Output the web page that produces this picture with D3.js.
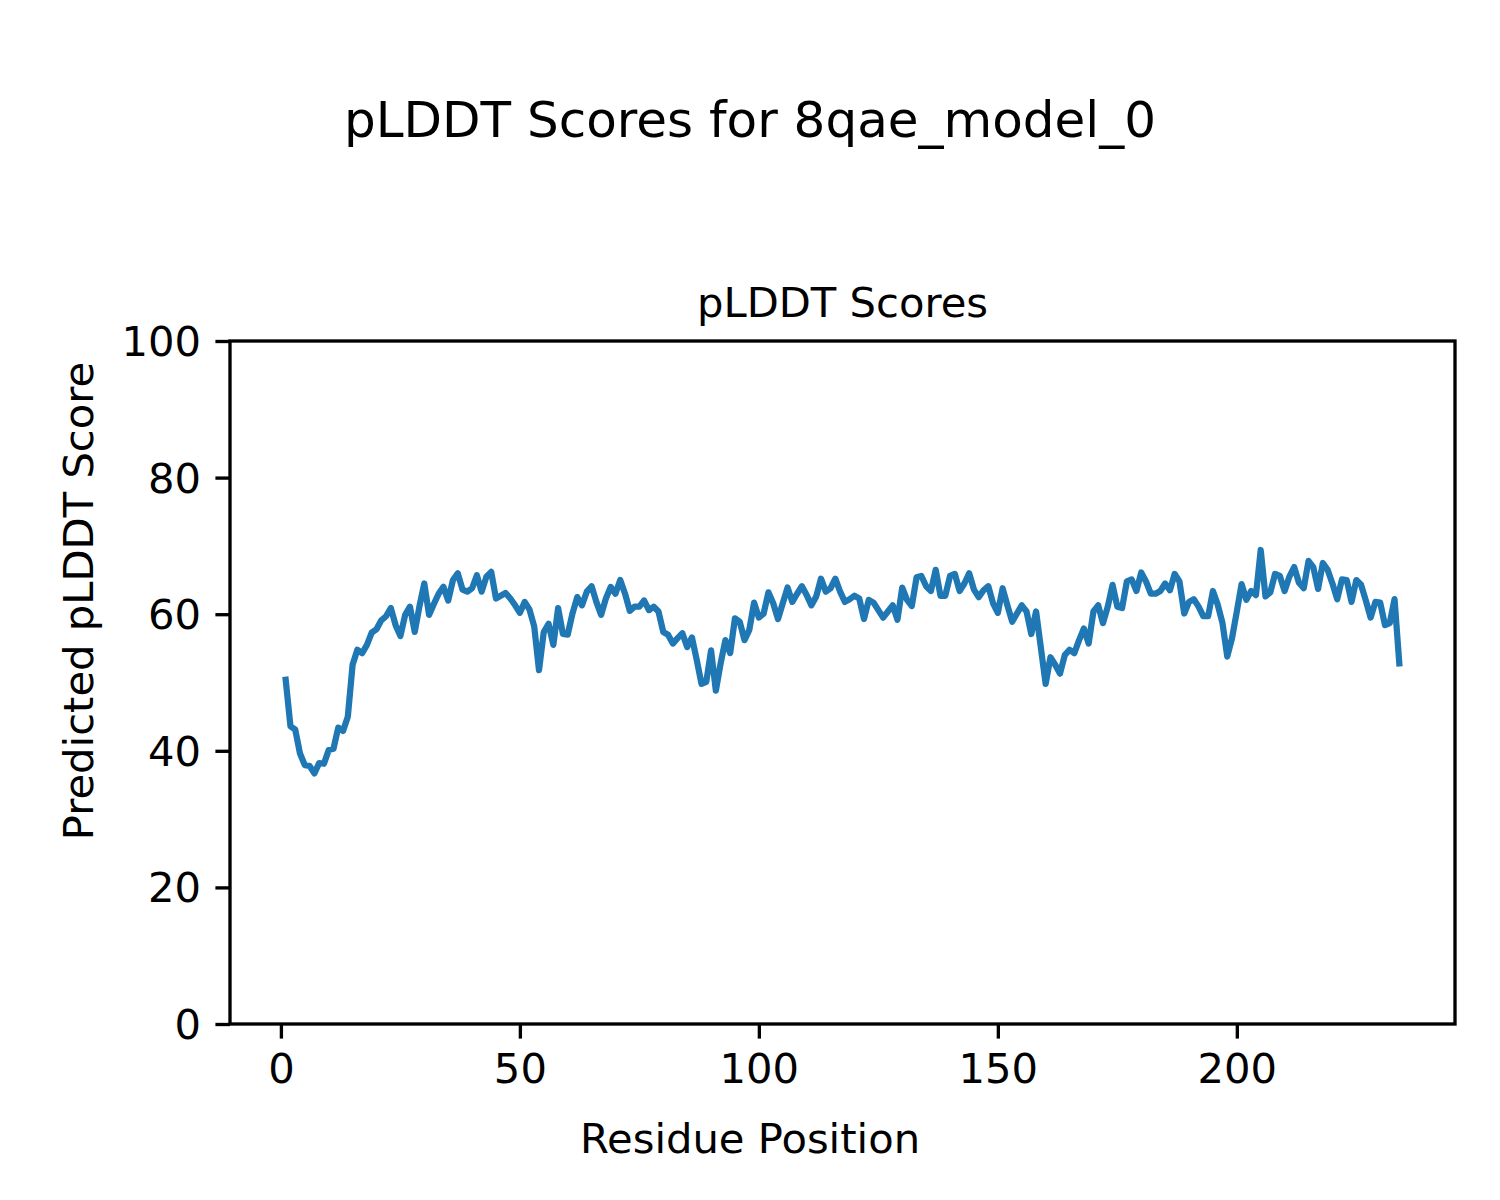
<!DOCTYPE html>
<html>
<head>
<meta charset="utf-8">
<script src="https://cdn.jsdelivr.net/npm/d3@7"></script>
<style>
  html, body { margin: 0; padding: 0; background: #fff; }
  svg text { font-family: "DejaVu Sans", sans-serif; fill: #000; }
</style>
</head>
<body>
<svg id="chart" width="1500" height="1200"></svg>
<script>
// ---- data ----
const figTitle = "pLDDT Scores for 8qae_model_0";
const axTitle = "pLDDT Scores";
const xLabel = "Residue Position";
const yLabel = "Predicted pLDDT Score";
const xTicks = [0, 50, 100, 150, 200];
const yTicks = [0, 20, 40, 60, 80, 100];
const plddt = [
  50.4, 43.6, 43.1, 39.6, 37.9, 37.8, 36.7, 38.2, 38.1, 40.1,
  40.3, 43.4, 42.9, 45.0, 52.6, 54.8, 54.3, 55.5, 57.3, 57.8,
  59.1, 59.7, 60.9, 58.4, 56.8, 59.9, 61.1, 57.4, 61.2, 64.5,
  59.9, 61.5, 63.0, 64.0, 62.0, 65.0, 66.0, 63.6, 63.3, 63.8,
  65.7, 63.3, 65.5, 66.2, 62.3, 62.7, 63.1, 62.3, 61.3, 60.2,
  61.8, 60.7, 58.2, 51.8, 57.4, 58.6, 55.5, 60.9, 57.1, 57.0,
  60.1, 62.5, 61.3, 63.3, 64.1, 61.8, 59.9, 62.3, 64.0, 63.0,
  65.0, 63.0, 60.5, 61.1, 61.1, 62.0, 60.6, 61.1, 60.4, 57.4,
  57.0, 55.7, 56.5, 57.2, 55.2, 56.6, 53.3, 49.8, 50.1, 54.7,
  48.8, 52.8, 56.2, 54.3, 59.4, 58.9, 56.2, 57.7, 61.7, 59.5,
  60.1, 63.2, 61.6, 59.3, 61.6, 63.9, 61.8, 63.0, 64.1, 62.8,
  61.3, 62.6, 65.2, 63.3, 63.8, 65.2, 63.3, 61.8, 62.2, 62.7,
  62.3, 59.3, 62.1, 61.7, 60.6, 59.5, 60.4, 61.3, 59.2, 63.9,
  62.1, 61.2, 65.4, 65.6, 64.1, 63.4, 66.5, 62.7, 62.7, 65.6,
  65.9, 63.4, 64.5, 66.0, 63.6, 62.5, 63.5, 64.1, 61.6, 60.2,
  63.8, 61.3, 58.9, 60.1, 61.3, 60.4, 57.1, 60.4, 55.1, 49.8,
  53.7, 52.6, 51.3, 54.0, 54.8, 54.3, 56.2, 57.9, 55.7, 60.4,
  61.3, 58.7, 61.1, 64.3, 61.1, 60.9, 64.8, 65.1, 63.4, 66.1,
  64.8, 63.0, 63.0, 63.4, 64.5, 63.5, 65.9, 64.8, 60.1, 61.8,
  62.2, 61.1, 59.7, 59.7, 63.4, 61.4, 58.7, 53.8, 56.5, 60.4,
  64.4, 62.1, 63.4, 62.8, 69.4, 62.6, 63.2, 65.9, 65.6, 63.4,
  65.5, 66.9, 64.6, 63.8, 67.8, 66.9, 63.7, 67.5, 66.5, 64.5,
  62.2, 65.1, 65.0, 61.8, 65.0, 64.3, 62.0, 59.5, 61.8, 61.7,
  58.4, 58.7, 62.2, 52.8
];
const residues = plddt.map((_, i) => i + 1);

// ---- layout ----
const svg = d3.select("#chart");
const L = 230, R = 1455, T = 341, B = 1024;
const lw = 3.33, tickLen = 14.6;
const n = residues.length;
const span = residues[n - 1] - residues[0];
const x = d3.scaleLinear()
  .domain([residues[0] - 0.05 * span, residues[n - 1] + 0.05 * span])
  .range([L, R]);
const y = d3.scaleLinear().domain([0, 100]).range([B, T]);

// line
const line = d3.line().x((d, i) => x(residues[i])).y(d => y(d));
svg.append("path")
  .datum(plddt)
  .attr("d", line)
  .attr("fill", "none")
  .attr("stroke", "#1f77b4")
  .attr("stroke-width", 6.25)
  .attr("stroke-linejoin", "round")
  .attr("stroke-linecap", "square");

// axes via d3
const xAxis = d3.axisBottom(x).tickValues(xTicks).tickSize(tickLen).tickPadding(14.6).tickFormat(d3.format("d"));
const yAxis = d3.axisLeft(y).tickValues(yTicks).tickSize(tickLen).tickPadding(14.6).tickFormat(d3.format("d"));

const gx = svg.append("g").attr("transform", `translate(0,${B})`).call(xAxis);
const gy = svg.append("g").attr("transform", `translate(${L},0)`).call(yAxis);
[gx, gy].forEach(g => {
  g.select(".domain").remove();
  g.selectAll(".tick line").attr("stroke", "#000").attr("stroke-width", lw);
  g.selectAll(".tick text").attr("font-size", 41.7).attr("fill", "#000")
    .attr("font-family", "DejaVu Sans, sans-serif");
});
gx.selectAll(".tick text").attr("dy", null).attr("y", 59);
gy.selectAll(".tick text").attr("dy", null).attr("y", 14.5).attr("x", -29);

// frame
svg.append("rect")
  .attr("x", L).attr("y", T).attr("width", R - L).attr("height", B - T)
  .attr("fill", "none").attr("stroke", "#000").attr("stroke-width", lw);

// texts
svg.append("text").attr("x", 750).attr("y", 137).attr("text-anchor", "middle")
  .attr("font-size", 50).text(figTitle);
svg.append("text").attr("x", (L + R) / 2).attr("y", 317).attr("text-anchor", "middle")
  .attr("font-size", 41.7).text(axTitle);
svg.append("text").attr("x", 750).attr("y", 1153).attr("text-anchor", "middle")
  .attr("font-size", 41.7).text(xLabel);
svg.append("text").attr("transform", "translate(93,601) rotate(-90)")
  .attr("text-anchor", "middle").attr("font-size", 41.7).text(yLabel);
</script>
</body>
</html>
